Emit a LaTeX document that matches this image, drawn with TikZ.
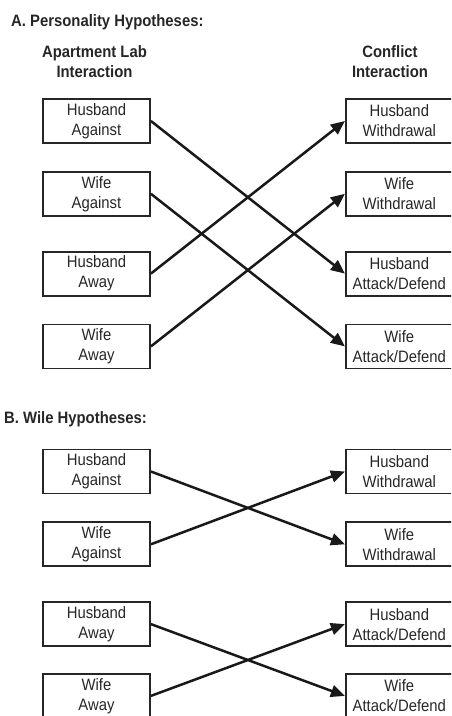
\documentclass[tikz,border=0pt]{standalone}
\usepackage{fontspec}
\setmainfont{Liberation Sans}[FakeStretch=0.9]
\usetikzlibrary{arrows.meta,positioning}

\begin{document}
\begin{tikzpicture}
  %% setup
  [
    x=1pt, y=-1pt,
    hypbox/.style={rectangle, draw=black!85, line width=1.8pt, minimum width=107pt, minimum height=44pt, inner sep=0pt, align=center, text=black!85, font=\fontsize{16.5}{20}\selectfont},
    titletext/.style={anchor=base west, inner sep=0pt, text=black!85, font=\bfseries\fontsize{16.5}{20}\selectfont},
    headtext/.style={align=center, inner sep=0pt, text=black!85, font=\bfseries\fontsize{16.5}{20}\selectfont},
    link/.style={-{Triangle[length=14pt,width=12pt]}, line width=2.5pt, draw=black!90},
  ]
  \useasboundingbox (0,0) rectangle (451,716);
  \clip (0,0) rectangle (451,716);

  %% Titles
  \node [titletext] (titleA) at (11,26) {A. Personality Hypotheses:};
  \node [titletext] (titleB) at (4,423) {B. Wile Hypotheses:};
  \node [headtext] (headlab) at (94.5,62) {Apartment Lab\\Interaction};
  \node [headtext] (headconf) at (390,62) {Conflict\\Interaction};

  %% Nodes A
  \node [hypbox] (hagA) at (96.5,121) {Husband\\Against};
  \node [hypbox] (wagA) [below=27pt of hagA] {Wife\\Against};
  \node [hypbox] (hawA) [below=34pt of wagA] {Husband\\Away};
  \node [hypbox] (wawA) [below=27pt of hawA] {Wife\\Away};
  \node [hypbox] (hwdA) [right=194pt of hagA] {Husband\\Withdrawal};
  \node [hypbox] (wwdA) [right=194pt of wagA] {Wife\\Withdrawal};
  \node [hypbox] (hatA) [right=194pt of hawA] {Husband\\Attack/Defend};
  \node [hypbox] (watA) [right=194pt of wawA] {Wife\\Attack/Defend};

  %% Nodes B
  \node [hypbox] (hagB) at (96.5,471.5) {Husband\\Against};
  \node [hypbox] (wagB) [below=27pt of hagB] {Wife\\Against};
  \node [hypbox] (hawB) [below=34pt of wagB] {Husband\\Away};
  \node [hypbox] (wawB) [below=26pt of hawB] {Wife\\Away};
  \node [hypbox] (hwdB) [right=194pt of hagB] {Husband\\Withdrawal};
  \node [hypbox] (wwdB) [right=194pt of wagB] {Wife\\Withdrawal};
  \node [hypbox] (hatB) [right=194pt of hawB] {Husband\\Attack/Defend};
  \node [hypbox] (watB) [right=194pt of wawB] {Wife\\Attack/Defend};

  %% Lines
  \draw [link] (hagA.east) -- (hatA.west);
  \draw [link] (wagA.east) -- (watA.west);
  \draw [link] (hawA.east) -- (hwdA.west);
  \draw [link] (wawA.east) -- (wwdA.west);
  \draw [link] (hagB.east) -- (wwdB.west);
  \draw [link] (wagB.east) -- (hwdB.west);
  \draw [link] (hawB.east) -- (watB.west);
  \draw [link] (wawB.east) -- (hatB.west);
\end{tikzpicture}
\end{document}
